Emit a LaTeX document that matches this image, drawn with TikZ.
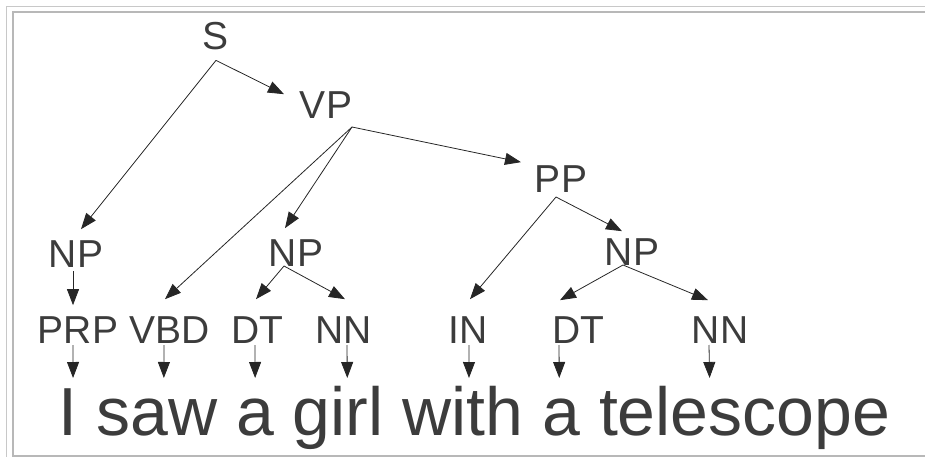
\documentclass[tikz,border=0pt]{standalone}
\usepackage{fontspec}
\setmainfont{Liberation Sans}
\usetikzlibrary{arrows.meta}
\definecolor{ink}{HTML}{3C3C3C}
\definecolor{frameA}{HTML}{C8C8C8}
\definecolor{frameB}{HTML}{B8B8B8}
\begin{document}
\begin{tikzpicture}[x=1pt,y=-1pt,
  lbl/.style={inner sep=0pt, outer sep=0pt, anchor=base, text=ink, font=\fontsize{39}{39}\selectfont},
  word/.style={inner sep=0pt, outer sep=0pt, anchor=base west, text=ink, font=\fontsize{68}{68}\selectfont},
  arr/.style={draw=black!85, line width=0.8pt, -{Triangle[length=16pt,width=12pt]}}]
\useasboundingbox (0,0) rectangle (925,457);
% frame
\draw[frameA, line width=1.2pt] (6.5,457) -- (6.5,6.5) -- (925,6.5);
\draw[frameB, line width=2pt] (925,12.5) -- (12.5,12.5) -- (12.5,455.5) -- (925,455.5);
% labels
\node[lbl] (S) at (216,50) {S};
\node[lbl] (VP) at (326,119) {VP};
\node[lbl] (PP) at (561,193) {PP};
\node[lbl] (NPL) at (76,267) {NP};
\node[lbl] (NPM) at (296,266) {NP};
\node[lbl] (NPR) at (632,265) {NP};
\node[lbl] (PRP) at (78,343) {PRP};
\node[lbl] (VBD) at (170,343) {VBD};
\node[lbl] (DT1) at (257,343) {DT};
\node[lbl] (NN1) at (344,343) {NN};
\node[lbl] (IN) at (468,343) {IN};
\node[lbl] (DT2) at (578,343) {DT};
\node[lbl] (NN2) at (720,343) {NN};
% words
\node[word] (w1) at (58.6,435) {I};
\node[word] (w2) at ([xshift=18.9pt]w1.base east) {saw};
\node[word] (w3) at ([xshift=18.9pt]w2.base east) {a};
\node[word] (w4) at ([xshift=18.9pt]w3.base east) {girl};
\node[word] (w5) at ([xshift=18.9pt]w4.base east) {with};
\node[word] (w6) at ([xshift=18.9pt]w5.base east) {a};
\node[word] (w7) at ([xshift=18.9pt]w6.base east) {telescope};
% edges
\draw[arr] ([yshift=-10pt]S.south) -- ([xshift=-42pt,yshift=-2pt]VP.north);
\draw[arr] ([yshift=-10pt]S.south) -- ([xshift=5pt,yshift=11pt]NPL.north);
\draw[arr] ([xshift=26pt,yshift=-8pt]VP.south) -- ([xshift=-5pt,yshift=17pt]VBD.north);
\draw[arr] ([xshift=26pt,yshift=-8pt]VP.south) -- ([xshift=-11pt,yshift=11pt]NPM.north);
\draw[arr] ([xshift=26pt,yshift=-8pt]VP.south) -- ([xshift=-40pt,yshift=4pt]PP.north);
\draw[arr] ([xshift=-5pt,yshift=-4pt]PP.south) -- ([xshift=2pt,yshift=17pt]IN.north);
\draw[arr] ([xshift=-5pt,yshift=-4pt]PP.south) -- ([xshift=-10pt,yshift=7pt]NPR.north);
\draw[arr] ([xshift=-3pt,yshift=-4pt]NPL.south) -- ([xshift=-5pt,yshift=11pt]PRP.north);
\draw[arr] ([xshift=-12pt]NPM.south) -- ([xshift=-1pt,yshift=17pt]DT1.north);
\draw[arr] ([xshift=-12pt]NPM.south) -- ([xshift=1pt,yshift=17pt]NN1.north);
\draw[arr] ([xshift=-9pt]NPR.south) -- ([xshift=-18pt,yshift=16pt]DT2.north);
\draw[arr] ([xshift=-9pt]NPR.south) -- ([xshift=-12pt,yshift=16pt]NN2.north);
\draw[arr] ([xshift=-5pt,yshift=-2pt]PRP.south) -- ([xshift=5pt,yshift=57pt]w1.base);
\draw[arr] ([xshift=-6pt,yshift=-2pt]VBD.south) -- ([xshift=7pt,yshift=57pt]w2.base);
\draw[arr] ([xshift=-2pt,yshift=-2pt]DT1.south) -- ([xshift=0pt,yshift=57pt]w3.base);
\draw[arr] ([xshift=3pt,yshift=-2pt]NN1.south) -- ([xshift=9pt,yshift=57pt]w4.base);
\draw[arr] ([xshift=1pt,yshift=-2pt]IN.south) -- ([xshift=6pt,yshift=57pt]w5.base);
\draw[arr] ([xshift=-19pt,yshift=-2pt]DT2.south) -- ([xshift=-2pt,yshift=57pt]w6.base);
\draw[arr] ([xshift=-11pt,yshift=-2pt]NN2.south) -- ([xshift=-35pt,yshift=57pt]w7.base);
\end{tikzpicture}
\end{document}
